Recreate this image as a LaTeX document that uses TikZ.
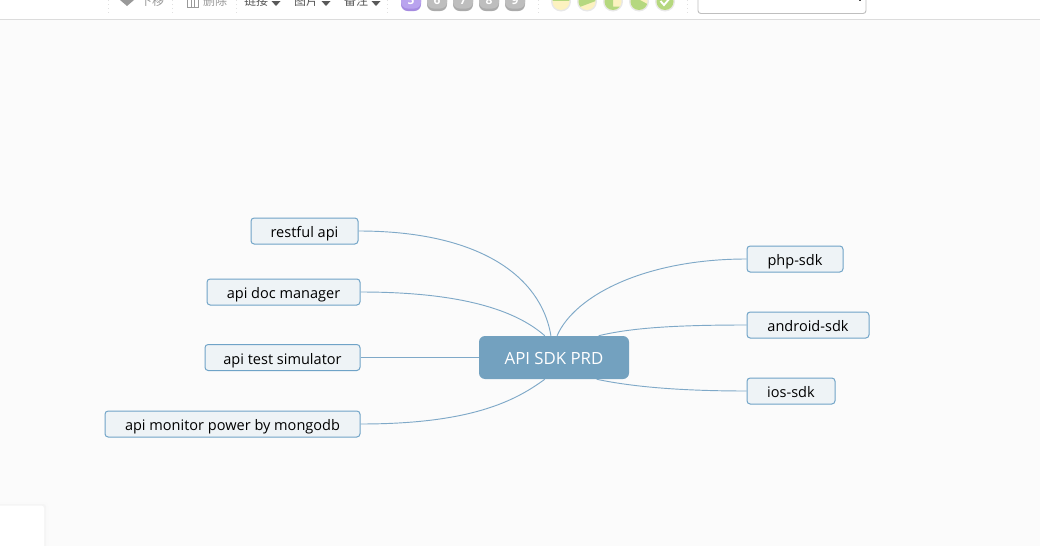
\documentclass[tikz,border=0pt]{standalone}
\usepackage{fontspec}
\setmainfont{Open Sans}
\newfontfamily\cjkfont{Noto Sans CJK SC}
\usepackage{xcolor}
\definecolor{pagebg}{HTML}{FBFBFB}
\definecolor{linkblue}{HTML}{7FA9C8}
\definecolor{rootblue}{HTML}{73A1BF}
\definecolor{topicfill}{HTML}{EEF3F6}
\definecolor{topicline}{HTML}{6FA3C7}
\definecolor{barline}{HTML}{DCDCDC}
\definecolor{priopurple}{HTML}{B9A3EE}
\definecolor{priopurpledark}{HTML}{A58BE0}
\definecolor{priogray}{HTML}{BEBEBE}
\definecolor{priograydark}{HTML}{ABABAB}
\definecolor{progyellow}{HTML}{FCF2C0}
\definecolor{proggreen}{HTML}{B5D87F}
\definecolor{progring}{HTML}{E8E8E8}

\begin{document}
\begin{tikzpicture}[
  x=0.75pt, y=-0.75pt,
  topic/.style={draw=topicline, fill=topicfill, line width=0.75pt, rounded corners=2.4pt, minimum height=19.5pt, inner sep=0pt, text height=11.5pt, text depth=1.7pt, font=\fontsize{10.9}{12}\selectfont, text=black},
  rootnode/.style={fill=rootblue, rounded corners=4.5pt, minimum width=112.5pt, minimum height=32.25pt, inner sep=0pt, text height=11.5pt, text depth=1.7pt, font=\fontsize{12.6}{14}\selectfont, text=white},
  link/.style={draw=linkblue, line width=0.7pt},
  tool/.style={inner sep=0pt, font=\cjkfont\fontsize{9}{10}\selectfont},
  sepline/.style={draw=black!12, dash pattern=on 1pt off 2pt, line width=0.5pt},
  badge/.style={inner sep=0pt, font=\fontsize{9}{10}\selectfont\bfseries, text=white}
]

% page
\useasboundingbox (0,0) rectangle (1040,546);
\fill[pagebg] (0,0) rectangle (1040,546);
\fill[white] (0,0) rectangle (1040,19);
\draw[barline, line width=0.75pt] (0,19.5) -- (1040,19.5);

% corner panel
\fill[black!2, rounded corners=3pt] (-4,502) rectangle (48,550);
\fill[black!4, rounded corners=2pt] (-4,504) rectangle (46,550);
\fill[white, rounded corners=2pt] (-4,505.5) rectangle (44,550);

% toolbar
\begin{scope}
\clip (0,0) rectangle (1040,19);
\foreach \x in {108,172,236,387,538,687}
  \draw[sepline] (\x,0) -- (\x,13);

\fill[black!40] (120,0) -- (127,-6) -- (134,0) -- (127,6) -- cycle;
\node[tool, text=black!40] (movedown) at (152,1) {下移};
\draw[black!40, line width=0.5pt] (187,-1) rectangle (198,7) (191,-1) -- (191,7) (194.5,-1) -- (194.5,7);
\node[tool, text=black!40] (remove) at (215,1) {删除};
\node[tool, text=black!65] (hyperlink) at (256,1) {链接};
\node[tool, text=black!65] (image) at (306,1) {图片};
\node[tool, text=black!65] (note) at (356,1) {备注};
\foreach \x in {276,326,376}
  \fill[black!65] (\x-4.5,1) -- (\x+4.5,1) -- (\x,6) -- cycle;

% priority badges
\fill[priopurpledark, rounded corners=5pt] (401,-10) rectangle (421,11);
\fill[priopurple, rounded corners=5pt] (401,-10) rectangle (421,8.5);
\node[badge] (prio5) at (411,0) {5};
\foreach \x/\n in {437/6,463/7,489/8,515/9} {
  \fill[priograydark, rounded corners=5pt] (\x-10,-10) rectangle (\x+10,11);
  \fill[priogray, rounded corners=5pt] (\x-10,-10) rectangle (\x+10,8.5);
  \node[badge] (prio\n) at (\x,0) {\n};
}

% progress dots
\foreach \x in {561,587,613,639,665} {
  \fill[progring] (\x,1.5) circle (10);
  \fill[progyellow] (\x,1.5) circle (8.5);
}
\begin{scope}
\clip (561,1.5) circle (8.5);
\fill[proggreen] (550,1) rectangle (572,-9);
\end{scope}
\begin{scope}
\clip (587,1.5) circle (8.5);
\fill[proggreen] (577,8) -- (597,0.5) -- (597,-9) -- (577,-9) -- cycle;
\end{scope}
\begin{scope}
\clip (613,1.5) circle (8.5);
\fill[proggreen] (603,-9) -- (613,-9) -- (613,6.5) -- (623,6.5) -- (623,12) -- (603,12) -- cycle;
\end{scope}
\begin{scope}
\clip (639,1.5) circle (8.5);
\fill[proggreen] (629,-9) -- (640,-9) -- (640,0) -- (649,5) -- (649,12) -- (629,12) -- cycle;
\end{scope}
\fill[proggreen] (665,1.5) circle (8.5);
\draw[white, line width=1.4pt] (660.5,1) -- (664,5) -- (670,-2);

% search box
\draw[black!25, fill=white, rounded corners=2.2pt, line width=0.7pt] (698,-8) rectangle (866,13.5);
\fill[black!70] (858.5,0) rectangle (861,1.5);
\end{scope}

% topics
\node[topic, minimum width=80.25pt] (restful) at (304.5,231) {restful api};
\node[topic, minimum width=114.75pt] (apidoc) at (283.5,292) {api doc manager};
\node[topic, minimum width=116.25pt] (apitest) at (282.5,357.5) {api test simulator};
\node[topic, minimum width=191.25pt] (apimonitor) at (232.5,424) {api monitor power by mongodb};
\node[topic, minimum width=72pt] (phpsdk) at (795,259) {php-sdk};
\node[topic, minimum width=91.5pt] (androidsdk) at (808,325) {android-sdk};
\node[topic, minimum width=66pt] (iossdk) at (791,391) {ios-sdk};
\node[rootnode] (root) at (554,357.5) {API SDK PRD};

% links
\draw[link] (restful.east) .. controls +(120,0) and +(-10,-60) .. (root.98);
\draw[link] (apidoc.east) .. controls +(110,0) and +(-25,-22) .. (root.113);
\draw[link] (apitest.east) -- (root.west);
\draw[link] (apimonitor.east) .. controls +(110,0) and +(-30,22) .. (root.247);
\draw[link] (phpsdk.west) .. controls +(-100,0) and +(18,-41) .. (root.82);
\draw[link] (androidsdk.west) .. controls +(-70,0) and +(33,-8) .. (root.26.6);
\draw[link] (iossdk.west) .. controls +(-70,0) and +(33,7) .. (root.333.4);

\end{tikzpicture}
\end{document}
